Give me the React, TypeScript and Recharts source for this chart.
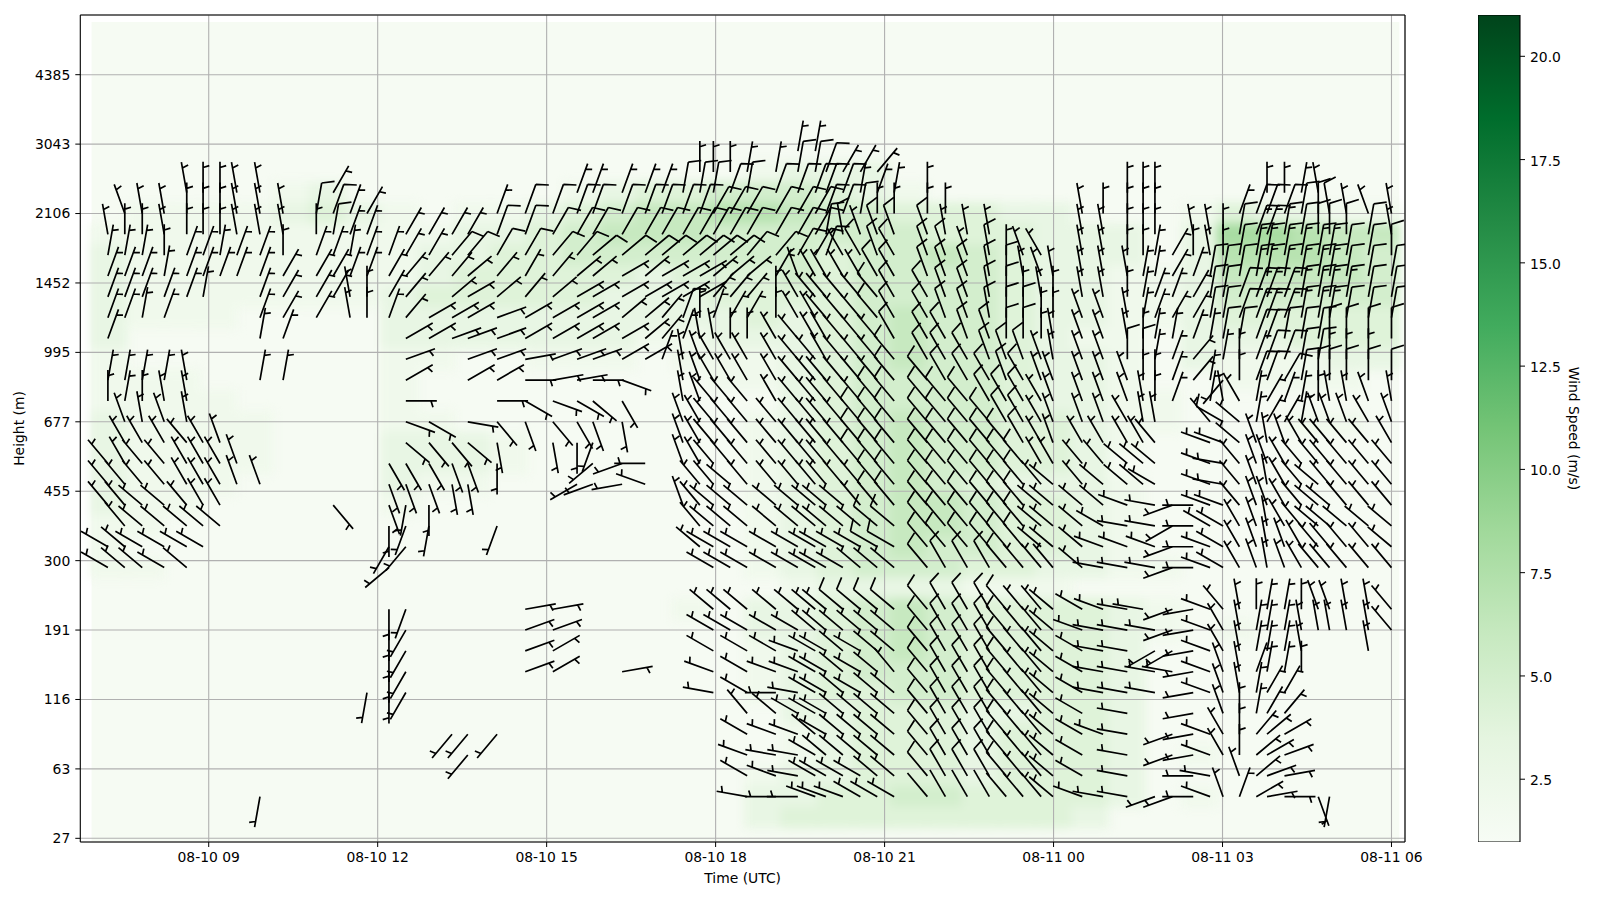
import {
  ScatterChart,
  Scatter,
  XAxis,
  YAxis,
  CartesianGrid,
  ReferenceArea,
  ReferenceLine,
  Label,
  BarChart,
  Bar,
} from "recharts";

const FONT = "DejaVu Sans";

// hours after 08-10 09:00 for every profile that has barbs
const times = [
  -1.79, -1.49, -1.18, -0.79, -0.39, -0.1, 0.2, 0.5, 0.91, 1.32, 1.91, 2.21, 2.51, 2.81, 3.2, 3.5, 3.91, 4.32, 4.6, 5.12,
  5.62, 6.11, 6.54, 6.82, 7.34, 7.75, 8.05, 8.42, 8.72, 8.96, 9.26, 9.56, 10.07, 10.46, 10.77, 10.96, 11.26, 11.57, 11.87,
  12.17, 12.76, 13.08, 13.47, 13.86, 14.16, 14.46, 14.78, 14.99, 15.51, 15.88, 16.31, 16.59, 16.8, 17.11, 17.48, 17.78,
  18.01, 18.3, 18.6, 18.79, 19.1, 19.4, 19.7, 19.9, 20.2, 20.59, 21.0,
];
const heatTimes = [
  -1.77, -1.12, -0.47, 0.17, 0.81, 1.46, 2.1, 2.75, 3.4, 4.04, 4.68, 5.33, 5.97, 6.62, 7.27, 7.91, 8.56, 9.2, 9.85, 10.49,
  11.14, 11.78, 12.43, 13.07, 13.71, 14.36, 15.01, 15.65, 16.3, 16.95, 17.59, 18.24, 18.89, 19.52, 20.17, 20.82,
];
const timeTicks = [0, 3, 6, 9, 12, 15, 18, 21];
const timeLabels = ["08-10 09", "08-10 12", "08-10 15", "08-10 18", "08-10 21", "08-11 00", "08-11 03", "08-11 06"];
const levelTicks = [0, 10, 20, 30, 40, 50, 60, 70, 80, 90, 100, 110];
const heightLabels = ["27", "63", "116", "191", "300", "455", "677", "995", "1452", "2106", "3043", "4385"];
const colorTicks = [2.5, 5, 7.5, 10, 12.5, 15, 17.5, 20];
const greens = ["#f7fcf5", "#e5f5e0", "#c7e9c0", "#a1d99b", "#74c476", "#41ab5d", "#238b45", "#006d2c", "#00441b"];

// [level, [first profile, direction per profile (base 36, tens of degrees), barb speed in knots], ...]
type Seg = [number, string, number];
const barbRows: [number, ...Seg[]][] = [
  [99, [33, "11", 5]],
  [96, [28, "00011", 5], [33, "112", 10], [36, "334", 5]],
  [93, [4, "z00zz", 5], [11, "3", 5], [22, "22222", 5], [27, "11", 10], [29, "12122222", 10], [37, "1210", 5], [50, "000", 5], [59, "001z", 5]],
  [90, [1, "yzz000zzz", 5], [10, "12", 10], [12, "23", 5], [19, "2", 5], [20, "222222222", 10], [29, "33333322", 10], [37, "1", 10], [38, "0000", 5], [48, "z0000", 5], [57, "2", 5], [58, "222", 10], [61, "10z", 10], [64, "zyz", 5]],
  [87, [0, "z00z000zzz", 5], [10, "0", 5], [11, "1", 10], [12, "22", 5], [15, "3333", 5], [19, "2233333333333333", 10], [35, "1z", 10], [37, "y", 5], [38, "yyy", 10], [41, "zzz", 5], [48, "zz000", 5], [54, "zz0", 5], [57, "1", 10], [58, "221", 15], [61, "100", 10], [64, "01", 10], [66, "z", 5]],
  [84, [0, "1110221220", 5], [10, "2212", 5], [14, "233", 5], [17, "44", 10], [19, "33", 10], [21, "44555555", 10], [29, "5544332", 10], [36, "x", 5], [37, "xyxyy", 10], [42, "y", 5], [43, "z", 10], [44, "0yx", 5], [48, "zz001", 5], [53, "3", 5], [54, "0z0", 5], [57, "1", 10], [58, "111111", 15], [64, "11", 10], [66, "0", 10]],
  [81, [0, "2221222223", 5], [10, "3322", 5], [14, "3444543455", 5], [24, "65666555", 5], [32, "3yxx", 5], [36, "xx", 5], [38, "xx", 10], [40, "yyyz0", 10], [45, "zyz", 5], [48, "zzz11", 5], [53, "32", 5], [55, "11", 10], [57, "1", 10], [58, "111111", 15], [64, "11", 10], [66, "1", 10]],
  [78, [0, "222221", 5], [8, "23", 5], [10, "33z0", 5], [14, "34", 5], [17, "5654", 5], [21, "56666666", 5], [29, "444", 5], [32, "0", 5], [33, "xwwww", 5], [38, "wxxyyz0", 10], [45, "0z0", 5], [48, "zz0", 5], [51, "122", 5], [54, "3", 5], [55, "11", 10], [57, "2", 10], [58, "2221111", 15], [65, "11", 10]],
  [75, [0, "2212", 5], [8, "23", 5], [10, "3", 5], [12, "z0", 5], [14, "24", 5], [16, "666766", 5], [22, "66554", 5], [27, "2", 10], [28, "0", 5], [29, "233", 5], [32, "0", 5], [33, "xxwww", 5], [38, "wxxyyz00", 10], [46, "00", 5], [48, "yyz", 5], [51, "123", 5], [54, "3", 5], [55, "11", 10], [57, "2", 10], [58, "222111", 15], [64, "111", 10]],
  [72, [0, "2", 5], [8, "12", 5], [15, "667776666654", 5], [27, "2", 5], [28, "zz00", 5], [32, "xwxx", 5], [36, "www", 5], [39, "x", 10], [40, "xxyy00", 10], [46, "0z", 5], [48, "yy", 5], [50, "z0", 5], [52, "112", 5], [55, "1", 5], [56, "1", 10], [57, "1", 10], [58, "2211", 10], [62, "1000", 10], [66, "0", 10]],
  [69, [15, "7", 5], [18, "778777662", 5], [27, "z", 5], [28, "yxxx", 5], [32, "xwwx", 5], [36, "www", 5], [39, "w", 10], [40, "xxxyyy", 10], [46, "yz", 5], [48, "yy", 5], [50, "00", 10], [52, "12", 5], [54, "4", 5], [56, "1", 5], [57, "0", 5], [58, "2", 5], [59, "2211", 10], [63, "000", 5]],
  [66, [0, "1111z", 5], [8, "11", 5], [15, "6", 5], [18, "669889b", 5], [27, "z", 5], [28, "yx", 5], [30, "xxx", 5], [33, "www", 5], [36, "www", 5], [39, "w", 10], [40, "wxxxyx", 10], [46, "yy", 5], [48, "yyy", 5], [51, "00", 5], [53, "2", 5], [54, "4", 5], [55, "1", 5], [56, "m", 5], [57, "0", 5], [58, "223100000", 10]],
  [63, [0, "010zz", 5], [15, "9", 5], [19, "9cbcdf", 5], [27, "z", 5], [28, "y", 5], [29, "wwwxw", 5], [34, "wwww", 5], [38, "ww", 10], [40, "wwwxxx", 10], [46, "xy", 5], [48, "yyy", 5], [51, "z0", 5], [53, "2", 5], [55, "1z", 5], [57, "x", 5], [58, "13210zzyz", 5]],
  [60, [1, "yzyz", 5], [15, "bc", 5], [18, "aegefgh", 5], [27, "y", 5], [28, "xwwwwwwww", 5], [37, "www", 10], [40, "wwwwxx", 10], [46, "xy", 5], [48, "yyx", 5], [51, "zz", 5], [55, "w", 5], [56, "u", 10], [57, "v", 5], [58, "1331", 5], [62, "yyyxy", 5]],
  [57, [1, "xxxwxy", 5], [15, "deedh", 5], [21, "hik", 5], [27, "y", 5], [28, "xw", 5], [30, "wwwwww", 5], [36, "w", 5], [37, "www", 10], [40, "wwwwwx", 10], [46, "xy", 5], [48, "xxx", 5], [51, "xw", 5], [55, "tt", 5], [57, "vyzyxwwwwx", 5]],
  [54, [0, "wxwwxxxy", 5], [14, "fffggi", 5], [23, "npr", 5], [27, "y", 5], [28, "x", 5], [29, "wwwwwww", 5], [36, "w", 5], [37, "www", 10], [40, "wwwwww", 10], [46, "xx", 5], [48, "wwvvv", 5], [55, "ts", 5], [57, "wyyxwwwwww", 5]],
  [51, [0, "wwwwxxxyy", 5], [14, "ggghh", 5], [22, "opqt", 5], [28, "w", 5], [29, "wvwwwww", 5], [36, "ww", 5], [38, "ww", 10], [40, "wwwwww", 10], [46, "wv", 5], [48, "wvvvu", 5], [55, "ts", 5], [57, "wyzxwvwwww", 5]],
  [48, [0, "wwvvwxx", 5], [11, "e", 5], [14, "gji", 5], [27, "y", 5], [28, "w", 5], [29, "vvvvvvv", 5], [36, "vw", 5], [38, "ww", 10], [40, "wwwwww", 10], [46, "vv", 5], [48, "vvt", 5], [52, "sprtt", 5], [57, "wyyxwvvwww", 5]],
  [45, [1, "wvvvvv", 5], [14, "ikj", 5], [19, "k", 5], [28, "w", 5], [29, "vvvvvvv", 5], [36, "vv", 5], [38, "vv", 10], [40, "wwwwww", 10], [46, "vv", 5], [48, "vus", 5], [52, "soruu", 5], [57, "xyzxwvvvvv", 5]],
  [42, [0, "uvuuuu", 5], [14, "lm", 5], [28, "v", 5], [29, "uuuuuuu", 5], [36, "uu", 5], [38, "uu", 10], [40, "wwwwww", 10], [46, "vv", 5], [48, "vtt", 5], [52, "tprtu", 5], [57, "xyzyxwwwwv", 5]],
  [39, [0, "uvvuv", 5], [14, "n", 5], [29, "uuuuuuu", 5], [36, "uvvv", 5], [40, "wxxxw", 10], [45, "www", 5], [48, "vss", 5], [52, "sprtu", 5], [57, "xyzyxwwwww", 5]],
  [33, [14, "ik", 5], [20, "88", 5], [29, "vvvvvvv", 5], [36, "vvvv", 10], [40, "wxxxw", 10], [45, "wwv", 5], [48, "utss", 5], [53, "pqtwz011", 5], [61, "0yyzzw", 5]],
  [30, [14, "il", 5], [20, "77", 5], [29, "uuuuuvv", 5], [36, "vvvv", 5], [40, "wxxxw", 10], [45, "wwv", 5], [48, "tss", 5], [52, "spqtxz111zzzzzw", 5]],
  [27, [14, "il", 5], [20, "76", 5], [29, "u", 5], [31, "uut", 5], [34, "uuvu", 5], [38, "vv", 5], [40, "wxxxw", 10], [45, "wwv", 5], [48, "uss", 5], [52, "ooqtxz111z", 5], [65, "z", 5]],
  [24, [14, "il", 5], [20, "76", 5], [24, "8", 5], [29, "t", 5], [31, "utt", 5], [34, "uuvu", 5], [38, "vw", 5], [40, "wxxxw", 10], [45, "wwv", 5], [48, "uss", 5], [52, "ssqtyz2110", 5]],
  [21, [13, "jil", 5], [29, "s", 5], [31, "ur", 5], [33, "su", 5], [35, "uvuvv", 5], [40, "wxxxw", 10], [45, "wwv", 5], [48, "us", 5], [50, "s", 5], [52, "s", 5], [54, "qtyz133", 5]],
  [18, [31, "wv", 5], [33, "uuu", 5], [36, "vvvv", 5], [40, "wxxxw", 10], [45, "wwv", 5], [48, "u", 5], [50, "s", 5], [54, "q", 5], [56, "y0134", 5]],
  [15, [17, "mmm", 5], [31, "ut", 5], [33, "t", 5], [34, "vuvvvv", 5], [40, "wxxxw", 10], [45, "wwv", 5], [48, "uts", 5], [53, "pqtx0456", 5]],
  [12, [18, "m", 5], [31, "ts", 5], [33, "s", 5], [34, "uvvvvv", 5], [40, "wxxxw", 10], [45, "wwv", 5], [48, "u", 5], [50, "s", 5], [53, "pqtx0567", 5]],
  [9, [31, "ut", 5], [33, "s", 5], [34, "uuuuvv", 5], [40, "wxxxw", 10], [45, "wwv", 5], [48, "u", 5], [50, "s", 5], [54, "rs", 5], [57, "y578", 5]],
  [6, [8, "j", 5], [31, "srr", 5], [34, "tttuuu", 5], [40, "wxxxw", 0], [45, "wwv", 5], [48, "tss", 5], [52, "pprty", 5], [57, "2", 5], [58, "689", 5], [62, "gj", 5]],
];

// [level, [first column, wind speed per column in m/s], ...]; columns not listed stay at the pale floor
const heatRows: [number, ...[number, string][]][] = [
  [96, [18, "2333"]],
  [93, [5, "23"], [13, "234455543"], [22, "2"]],
  [90, [1, "2222"], [5, "3432"], [10, "223"], [13, "456677"], [19, "6554"], [23, "443"], [26, "3"], [30, "243322"]],
  [87, [0, "222222222"], [9, "233"], [12, "4566655"], [19, "5555"], [23, "4443"], [27, "33"], [30, "388766"]],
  [84, [0, "322222222"], [9, "3344555"], [16, "5555"], [20, "4"], [21, "5565"], [25, "433"], [28, "3"], [30, "377765"]],
  [81, [0, "322222222"], [9, "3444443"], [16, "4445"], [20, "45555"], [25, "433"], [28, "22"], [30, "366665"]],
  [78, [0, "32222222"], [8, "3444443"], [15, "3344"], [19, "445555"], [25, "433"], [28, "22"], [30, "355555"]],
  [75, [0, "3222"], [8, "3333333"], [15, "3334"], [19, "345655"], [25, "433"], [28, "22"], [30, "344444"]],
  [72, [0, "3"], [8, "3333"], [12, "333"], [15, "2233"], [19, "345655"], [25, "43"], [27, "22"], [30, "333444"]],
  [69, [0, "2"], [8, "22"], [12, "222"], [16, "22"], [18, "2"], [19, "345655"], [25, "433"], [28, "2"], [30, "322233"]],
  [66, [0, "222"], [8, "2"], [17, "22"], [19, "345555"], [25, "433"], [28, "2"], [31, "2222"]],
  [63, [0, "2222"], [8, "2"], [19, "345555"], [25, "433"], [28, "22"]],
  [60, [0, "32222"], [8, "22"], [18, "2"], [19, "345655"], [25, "443"], [28, "22"], [33, "22"]],
  [57, [0, "32222"], [8, "333"], [11, "2"], [18, "2"], [19, "345655"], [25, "4432"]],
  [54, [0, "32222"], [8, "3332"], [18, "2"], [19, "345655"], [25, "443"]],
  [51, [0, "3222"], [8, "322"], [18, "2"], [19, "345654"], [25, "333"], [28, "2"]],
  [48, [0, "322"], [8, "2"], [18, "2"], [19, "345665"], [25, "44"], [27, "3"], [28, "2"]],
  [45, [0, "22"], [18, "2"], [19, "345665"], [25, "443"], [28, "2"]],
  [42, [0, "2"], [18, "2"], [19, "345655"], [25, "443"], [28, "2"]],
  [39, [0, "22"], [18, "2"], [19, "345554"], [25, "433"], [28, "22"]],
  [36, [19, "233332"], [25, "22"]],
  [33, [16, "2"], [18, "3"], [19, "345654"], [25, "4443"], [29, "2"]],
  [30, [18, "3"], [19, "345654"], [25, "4443"], [29, "2"], [31, "2"]],
  [27, [18, "2"], [19, "345654"], [25, "4443"]],
  [24, [18, "2"], [19, "345554"], [25, "4443"]],
  [21, [18, "2"], [19, "344554"], [25, "4443"]],
  [18, [19, "334443"], [25, "3443"]],
  [15, [19, "234443"], [25, "4443"]],
  [12, [19, "234443"], [25, "4443"], [30, "2"]],
  [9, [18, "2"], [19, "334443"], [25, "4443"]],
  [6, [18, "3"], [19, "344554"], [25, "4443"], [30, "2"]],
  [3, [18, "3"], [19, "444444"], [25, "443"]],
];

const barbs = barbRows.flatMap(([level, ...segs]) =>
  segs.flatMap(([first, dirs, knots]) =>
    [...dirs].map((c, i) => ({ t: times[first + i], level, dir: parseInt(c, 36) * 10, knots }))
  )
);
const heat = heatRows.flatMap(([level, ...segs]) =>
  segs.flatMap(([first, vals]) => [...vals].map((c, i) => ({ t: heatTimes[first + i], level, speed: Number(c) })))
);
const colorBar = [{ name: "scale", top: 21 }];

function mix(a: string, b: string, f: number) {
  const ch = (s: string, i: number) => parseInt(s.slice(1 + i * 2, 3 + i * 2), 16);
  const out = [0, 1, 2].map((i) => Math.round(ch(a, i) + (ch(b, i) - ch(a, i)) * f));
  return `rgb(${out.join(",")})`;
}

function speedColor(speed: number) {
  const pos = ((speed - 0.98) / 20.02) * (greens.length - 1);
  const i = Math.min(Math.floor(pos), greens.length - 2);
  return mix(greens[i], greens[i + 1], pos - i);
}

function HeatCell(props: any) {
  const { cx, cy, payload } = props;
  return <rect x={cx - 19} y={cy - 11} width={38} height={22} fill={speedColor(payload.speed)} />;
}

// same proportions as a matplotlib barb: staff runs from the point towards where the wind comes from
function Barb(props: any) {
  const { cx, cy, payload } = props;
  const L = 31;
  const rad = (payload.dir * Math.PI) / 180;
  const ux = Math.sin(rad);
  const uy = -Math.cos(rad);
  const nx = Math.cos(rad);
  const ny = Math.sin(rad);
  let d = `M${cx},${cy}L${cx + ux * L},${cy + uy * L}`;
  let pos = L;
  const feather = (h: number, w: number) => {
    const bx = cx + ux * pos;
    const by = cy + uy * pos;
    d += `M${bx},${by}L${bx + nx * h + ux * w},${by + ny * h + uy * w}`;
  };
  const full = Math.floor(payload.knots / 10);
  for (let i = 0; i < full; i++) {
    feather(L * 0.4, L * 0.125);
    pos -= L * 0.125;
  }
  if (payload.knots % 10 >= 5) {
    if (full === 0) pos -= L * 0.125 * 1.5;
    feather(L * 0.2, L * 0.0625);
  }
  return <path d={d} stroke="#000" strokeWidth={1.7} fill="none" />;
}

export default function App() {
  const tickStyle = { fontFamily: FONT, fontSize: 13.9, fill: "#000" };
  return (
    <div style={{ position: "fixed", left: 0, top: 0, width: 1600, height: 900, background: "#fff" }}>
      <style>{`.heat-layer{filter:blur(5px)}`}</style>
      <div style={{ position: "absolute", left: 0, top: 0 }}>
        <ScatterChart width={1470} height={900} margin={{ top: 15, right: 65, bottom: 0, left: 0 }}>
          <XAxis
            type="number"
            dataKey="t"
            domain={[-2.28, 21.24]}
            ticks={timeTicks}
            interval={0}
            allowDataOverflow
            height={58}
            tickSize={5}
            tickMargin={5}
            tick={tickStyle}
            stroke="#000"
            tickFormatter={(v: number) => timeLabels[timeTicks.indexOf(v)]}
          >
            <Label value="Time (UTC)" position="insideBottom" offset={17} style={tickStyle} />
          </XAxis>
          <YAxis
            type="number"
            dataKey="level"
            domain={[-0.53, 118.6]}
            ticks={levelTicks}
            interval={0}
            allowDataOverflow
            width={80.3}
            tickSize={5}
            tickMargin={5}
            tick={tickStyle}
            stroke="#000"
            tickFormatter={(v: number) => heightLabels[levelTicks.indexOf(v)]}
          >
            <Label value="Height (m)" angle={-90} position="insideLeft" offset={19} style={{ ...tickStyle, textAnchor: "middle" }} />
          </YAxis>
          <ReferenceArea x1={-2.08} x2={21.14} y1={-0.45} y2={117.6} fill="#f6fbf3" fillOpacity={1} stroke="none" zIndex={100} />
          <Scatter className="heat-layer" data={heat} shape={HeatCell} isAnimationActive={false} zIndex={200} />
          <CartesianGrid stroke="#b0b0b0" strokeWidth={1.1} zIndex={300} />
          <Scatter data={barbs} shape={Barb} isAnimationActive={false} zIndex={600} />
          <ReferenceLine y={118.6} stroke="#000" strokeWidth={1.1} />
          <ReferenceLine x={21.24} stroke="#000" strokeWidth={1.1} />
        </ScatterChart>
      </div>
      <div style={{ position: "absolute", left: 1478, top: 0 }}>
        <BarChart width={122} height={900} data={colorBar} margin={{ top: 15, right: 0, bottom: 58, left: 0 }} barCategoryGap={0}>
          <defs>
            <linearGradient id="greensBar" x1="0" y1="1" x2="0" y2="0">
              {greens.map((c, i) => (
                <stop key={c} offset={i / (greens.length - 1)} stopColor={c} />
              ))}
            </linearGradient>
          </defs>
          <XAxis dataKey="name" hide />
          <YAxis
            orientation="right"
            type="number"
            domain={[0.98, 21]}
            ticks={colorTicks}
            interval={0}
            allowDataOverflow
            width={80}
            tickSize={5}
            tickMargin={5}
            axisLine={false}
            tick={{ ...tickStyle, textAnchor: "start", dy: 1 }}
            stroke="#000"
            tickFormatter={(v: number) => v.toFixed(1)}
          >
            <Label value="Wind Speed (m/s)" angle={90} position="insideRight" offset={26} style={{ ...tickStyle, textAnchor: "middle" }} />
          </YAxis>
          <Bar dataKey="top" fill="url(#greensBar)" stroke="#000" strokeWidth={1.1} isAnimationActive={false} />
        </BarChart>
      </div>
    </div>
  );
}
